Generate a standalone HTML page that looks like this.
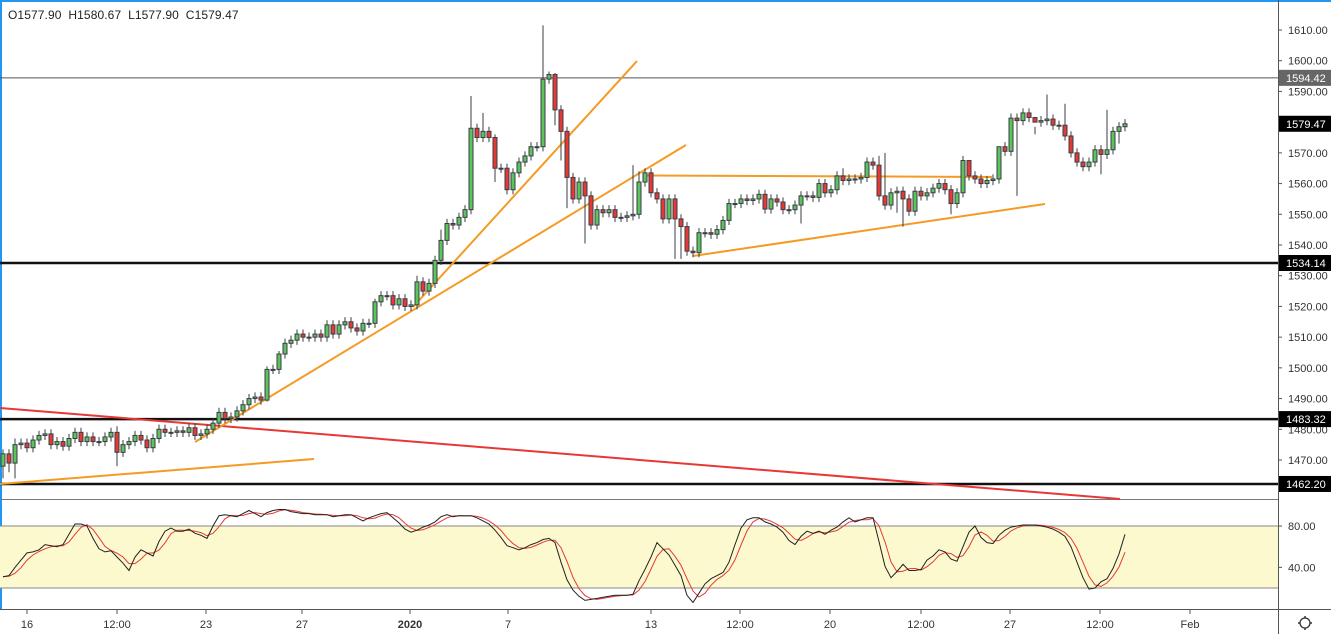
<!DOCTYPE html>
<html><head><meta charset="utf-8"><style>
html,body{margin:0;padding:0;background:#fff;}
body{width:1331px;height:634px;overflow:hidden;position:relative;font-family:"Liberation Sans",sans-serif;}
#hdr{position:absolute;left:8px;top:8px;font-size:12px;color:#222;letter-spacing:0.1px;}
svg{position:absolute;left:0;top:0;}
</style></head><body>
<svg id="chart" width="1331" height="634" xmlns="http://www.w3.org/2000/svg"></svg>
<div id="hdr">O1577.90&nbsp;&nbsp;H1580.67&nbsp;&nbsp;L1577.90&nbsp;&nbsp;C1579.47</div>
<script>
const closes=[1472,1469,1475,1475.5,1474,1476.5,1478,1478.5,1475,1476,1474.5,1477,1479,1476,1477.5,1476,1476,1477.5,1479,1472.5,1475,1476,1478,1476.5,1474,1477,1480,1479,1479,1479.5,1479,1480.5,1478,1478.5,1480,1482,1485.5,1483.5,1484,1486,1488,1490,1490.5,1489.5,1499.5,
1499.5,1504.5,1508,1509,1511,1510,1510,1511,1510,1514,1511,1514,1515,1513,1512,1514.5,1514.5,1521.5,1523.5,1523.5,1520.5,1522.5,1520,1520.5,1528,1525,1527.5,1535,1541.5,1547,1546.5,1549,1551.5,1578,1575,1577,1575,1565,
1565,1558,1563.5,1567,1569,1572,1572,1594,1595.5,1584,1577,1562,1555,1560.5,1556,1546.5,1551.5,1550.5,1551.5,1549,1549,1549.5,1550,1560.5,1563.5,1557,1555,1548.5,1555,1548.5,1546,1538,1537.5,1544,1544,1543.5,1545,1548,1553.5,
1553.5,1555,1554.5,1555,1556.5,1551.7,1555,1554,1551.5,1551.5,1553,1556,1556,1555.5,1560,1557,1558,1562.5,1561,1561.5,1561.5,1562,1567,1566,1556,1553,1557,1557.5,1555,1551,1557.5,1556,1557,1558.5,1560,1558,1553.5,1557,1567.5,1562.5,1561.5,1560,
1561,1561.5,1572,1570.5,1581.3,1580.5,1583,1581.5,1580,1580.5,1581,1579,1579,1575.5,1570,1567,1565.5,1567,1571,1569.5,1571,1577,1578.5,1579.47];
const firstOpen=1468;
const highOverrides={2:1477,19:1481,36:1487,44:1500.5,46:1505.5,62:1522.5,69:1530,73:1545,78:1588.5,80:1583,82:1576,90:1611.5,91:1596.5,92:1596,105:1566,106:1564,140:1565,146:1569,147:1570,161:1567,166:1569,172:1576,174:1589,177:1586,184:1584};
const lowOverrides={0:1464,1:1466,2:1464,19:1468,44:1489,78:1550,82:1560.5,92:1579,93:1567.5,94:1552,97:1540.5,112:1535.5,113:1535.5,133:1547,149:1550.5,150:1546,158:1550,169:1556,183:1563,186:1573};
const stochK=[31,32,40,47,54,55,57,62,61,60,62,72,82,82,80,68,58,55,56,50,44,37,50,57,54,51,65,75,78,75,75,77,73,71,68,80,90,91,90,89,92,95,92,89,93,95,96,96,94,93,92,92,91,91,91,89,90,91,91,88,85,88,90,92,93,88,83,77,74,76,79,81,84,89,91,89,90,90,90,88,85,82,76,69,61,59,57,59,62,64,67,68,64,45,28,18,12,8,9,10,11,12,13,13,13,14,27,
38,50,64,58,52,42,32,13,6,15,24,29,32,35,45,62,78,86,88,88,84,82,79,74,66,62,70,75,73,75,72,76,79,84,88,84,86,88,88,65,41,30,36,43,37,37,38,47,51,57,55,48,46,60,74,80,69,64,63,71,76,79,80,81,81,81,80,79,77,74,70,60,45,30,19,20,26,29,39,53,72];
const priceTicks=[1610,1600,1590,1570,1560,1550,1540,1530,1520,1510,1500,1490,1480,1470];
const stochTicks=[80,40];
const timeLabels=["16","12:00","23","27","2020","7","13","12:00","20","12:00","27","12:00","Feb"];
const timeLabelX=[27,117,206,302,410,508,651,740,830,921,1010,1100,1190];
const levelPrices=[1534.14,1483.32,1462.20];

const NS="http://www.w3.org/2000/svg";
const svg=document.getElementById('chart');
const X0=1278;
function py(p){return 30+(1610-p)*3.0714;}
function cx(i){return 3+6*i;}
function sy(v){return 608.7-v*1.0333;}
function mk(tag,attrs,parent){const e=document.createElementNS(NS,tag);for(const k in attrs)e.setAttribute(k,attrs[k]);(parent||svg).appendChild(e);return e;}

let e;
e=mk('rect',{x:0,y:0,width:1331,height:2,fill:'#2196f3'});


e=mk('rect',{x:0,y:0,width:2,height:610,fill:'#2196f3'});


e=mk('line',{x1:X0+0.5,y1:0,x2:X0+0.5,y2:634,stroke:'#555','stroke-width':1});


e=mk('line',{x1:0,y1:499.5,x2:X0,y2:499.5,stroke:'#777','stroke-width':1});


e=mk('line',{x1:0,y1:609.5,x2:1331,y2:609.5,stroke:'#555','stroke-width':1});



e=mk('rect',{x:0,y:sy(80),width:X0,height:sy(20)-sy(80),fill:'#fdf9cf'});


[80,20].forEach(v=>{const l=mk('line',{x1:0,y1:sy(v),x2:X0,y2:sy(v),stroke:'#888','stroke-width':1});

});

e=mk('line',{x1:0,y1:py(1594.42),x2:X0,y2:py(1594.42),stroke:'#555','stroke-width':1});


levelPrices.forEach(p=>{const l=mk('line',{x1:0,y1:py(p),x2:X0,y2:py(p),stroke:'#111','stroke-width':2.5});

});

const drawings=[[0,408,1120,499,'#e53935'],[0,484,314,459,'#f59a23'],[195,442,686,145,'#f59a23'],[413,307,637,61,'#f59a23'],[645,175.5,992,177,'#f59a23'],[693,256,1045,204,'#f59a23']];
drawings.forEach(d=>{const l=mk('line',{x1:d[0],y1:d[1],x2:d[2],y2:d[3],stroke:d[4],'stroke-width':2});

});

const opens=[],highs=[],lows=[];
for(let i=0;i<closes.length;i++){
  const o=i===0?firstOpen:closes[i-1];const c=closes[i];
  opens.push(o);
  highs.push(highOverrides[i]!==undefined?highOverrides[i]:Math.max(o,c)+1.5);
  lows.push(lowOverrides[i]!==undefined?lowOverrides[i]:Math.min(o,c)-1.5);
}
const cg=mk('g',{});


for(let i=0;i<closes.length;i++){
  const x=cx(i),o=opens[i],c=closes[i];
  const up=c>=o;
  const w=mk('line',{x1:x,y1:py(highs[i]),x2:x,y2:py(lows[i]),stroke:'#3a3d45','stroke-width':1},cg);
  
  
  const top=py(Math.max(o,c)),bot=py(Math.min(o,c));
  const b=mk('rect',{x:x-2,y:top,width:4,height:Math.max(1,bot-top),fill:up?'#5cc45c':'#e53935',stroke:'#3a3d45','stroke-width':1},cg);
  
  
}

function sma(a,n){return a.map((v,i)=>{const s=Math.max(0,i-n+1);let t=0;for(let j=s;j<=i;j++)t+=a[j];return t/(i-s+1);});}
const stochD=sma(stochK,3);
function pathOf(a){return a.map((v,i)=>(i?'L':'M')+cx(i)+','+sy(Math.max(0,Math.min(100,v))).toFixed(1)).join('');}
e=mk('path',{d:pathOf(stochD),fill:'none',stroke:'#e53935','stroke-width':1});


e=mk('path',{d:pathOf(stochK),fill:'none',stroke:'#222','stroke-width':1});



function lbl(x,y,t,opt){const el=mk('text',Object.assign({x:x,y:y,'font-size':11,fill:'#333','font-family':'Liberation Sans, sans-serif'},opt||{}));el.textContent=t;return el;}
priceTicks.forEach(p=>{const y=py(p);
const tk=mk('line',{x1:X0,y1:y,x2:X0+4,y2:y,stroke:'#555'});


const t=lbl(1288,y+4,p.toFixed(2));

});
stochTicks.forEach(v=>{const y=sy(v);
const tk=mk('line',{x1:X0,y1:y,x2:X0+4,y2:y,stroke:'#555'});


const t=lbl(1288,y+4,v.toFixed(2));

});
const tags=[[1594.42,'#666'],[1579.47,'#000'],[1534.14,'#000'],[1483.32,'#000'],[1462.20,'#000']];
tags.forEach(tg=>{const y=py(tg[0]);
const r=mk('rect',{x:X0+1,y:y-8,width:52,height:16,fill:tg[1]});


const t=lbl(1286,y+4,tg[0].toFixed(2),{fill:'#fff'});

});
timeLabels.forEach((s,i)=>{const x=timeLabelX[i];
const tk=mk('line',{x1:x,y1:610,x2:x,y2:614,stroke:'#555'});


const t=lbl(x,628,s,{'text-anchor':'middle','font-weight':s==='2020'?'bold':'normal'});

});
const gear=mk('g',{});


mk('circle',{cx:1305,cy:623,r:5,fill:'none',stroke:'#333','stroke-width':1.3},gear);
[[1305,616,1305,618],[1305,628,1305,630],[1298,623,1300,623],[1310,623,1312,623]].forEach(a=>mk('line',{x1:a[0],y1:a[1],x2:a[2],y2:a[3],stroke:'#333','stroke-width':1.5},gear));
</script>
</body></html>
